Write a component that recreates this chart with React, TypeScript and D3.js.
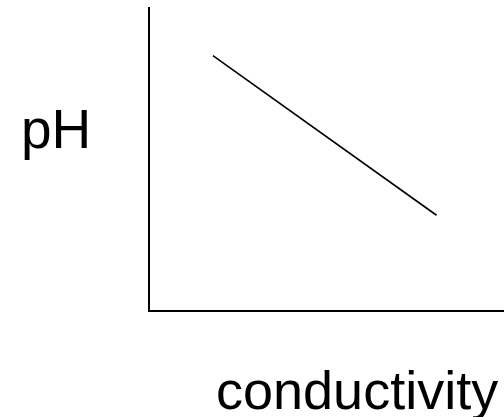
import React from "react";
import * as d3 from "d3";

const W = 504;
const H = 417;

const xLabel = "conductivity";
const yLabel = "pH";
const conductivity = [1.8, 8.1];
const pH = [8.4, 3.15];
const xDomain = [0, 10];
const yDomain = [0, 10];

export default function App() {
  const x = d3.scaleLinear().domain(xDomain).range([149, 504]);
  const y = d3.scaleLinear().domain(yDomain).range([311, 7]);
  const pts = conductivity.map((c, i) => [c, pH[i]] as [number, number]);
  const line = d3
    .line<[number, number]>()
    .x((d) => x(d[0]))
    .y((d) => y(d[1]));
  return (
    <svg
      width={W}
      height={H}
      style={{ position: "fixed", left: 0, top: 0, background: "#fff" }}
      fontFamily="Arial, 'Liberation Sans', sans-serif"
    >
      <rect width={W} height={H} fill="#fff" />
      <line x1={x(0)} x2={x(0)} y1={y(10)} y2={y(0) + 1} stroke="#000" strokeWidth={2} />
      <line x1={x(0) - 1} x2={x(10)} y1={y(0)} y2={y(0)} stroke="#000" strokeWidth={2} />
      <path d={line(pts) || ""} fill="none" stroke="#000" strokeWidth={1.6} />
      <text x={21} y={148} fontSize={55} fill="#000">
        {yLabel}
      </text>
      <text x={216} y={409} fontSize={54} fill="#000">
        {xLabel}
      </text>
    </svg>
  );
}
